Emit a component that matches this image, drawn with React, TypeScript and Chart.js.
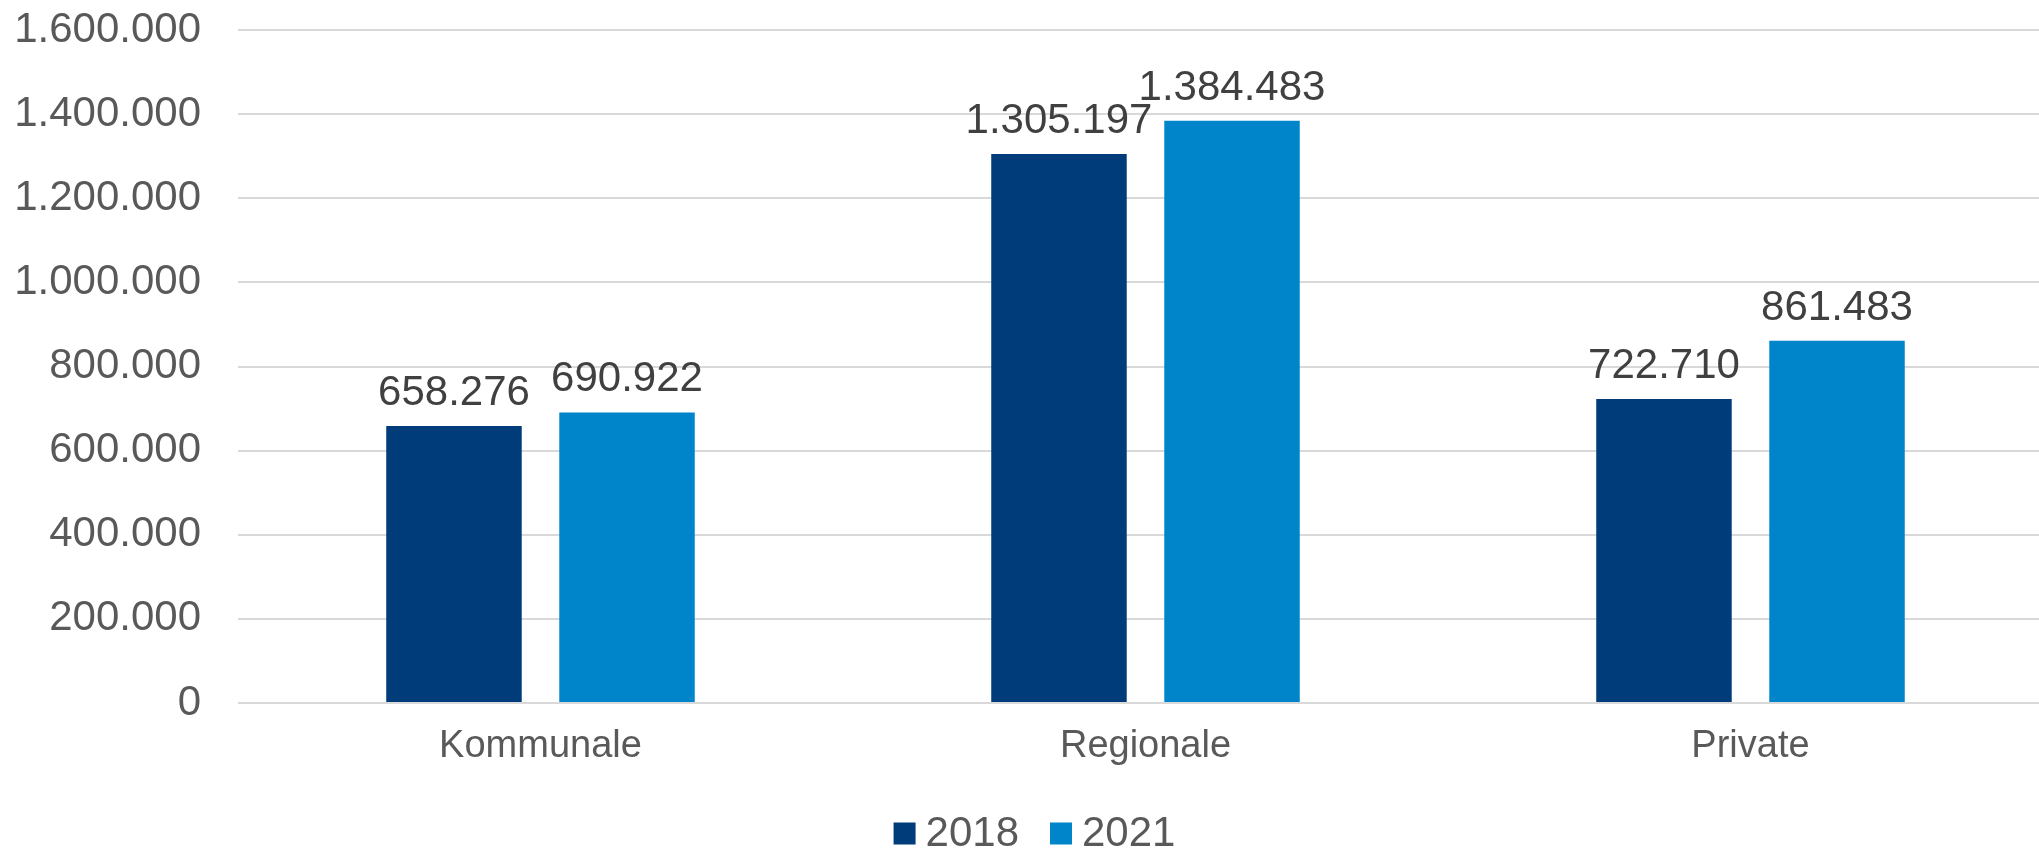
import React, { useEffect, useRef } from "react";
import { Chart, registerables } from "chart.js";

Chart.register(...registerables);

const categories = ["Kommunale", "Regionale", "Private"];
const seriesLabels = ["2018", "2021"];
const values2018 = [658276, 1305197, 722710];
const values2021 = [690922, 1384483, 861483];
const yTicks = [0, 200000, 400000, 600000, 800000, 1000000, 1200000, 1400000, 1600000];

const COLOR_2018 = "#003B7A";
const COLOR_2021 = "#0085CA";
const FONT = "'Liberation Sans', Arial, sans-serif";

function fmt(n: number): string {
  const s = Math.round(n).toString();
  return s.replace(/\B(?=(\d{3})+(?!\d))/g, ".");
}

const dataLabelPlugin = {
  id: "dataLabels",
  afterDatasetsDraw(chart: any) {
    const ctx = chart.ctx;
    ctx.save();
    ctx.font = `42px ${FONT}`;
    ctx.fillStyle = "#404040";
    ctx.textAlign = "center";
    ctx.textBaseline = "alphabetic";
    chart.data.datasets.forEach((ds: any, di: number) => {
      const meta = chart.getDatasetMeta(di);
      meta.data.forEach((bar: any, i: number) => {
        ctx.fillText(fmt(ds.data[i]), bar.x, bar.y - 21);
      });
    });
    ctx.restore();
  },
};

const legendPlugin = {
  id: "customLegend",
  afterDraw(chart: any) {
    const ctx = chart.ctx;
    ctx.save();
    ctx.font = `42px ${FONT}`;
    ctx.textBaseline = "alphabetic";
    ctx.textAlign = "left";
    const box = 22;
    const gapText = 10;
    const gapItem = 31;
    const items = chart.data.datasets.map((ds: any) => ({
      label: ds.label,
      color: ds.backgroundColor,
      w: box + gapText + ctx.measureText(ds.label).width,
    }));
    const total = items.reduce((a: number, it: any) => a + it.w, 0) + gapItem * (items.length - 1);
    let x = 1034.5 - total / 2;
    const boxTop = 822.5;
    const baseline = 846;
    items.forEach((it: any) => {
      ctx.fillStyle = it.color;
      ctx.fillRect(x, boxTop, box, box);
      ctx.fillStyle = "#595959";
      ctx.fillText(it.label, x + box + gapText, baseline);
      x += it.w + gapItem;
    });
    ctx.restore();
  },
};

export default function App() {
  const ref = useRef<HTMLCanvasElement | null>(null);

  useEffect(() => {
    if (!ref.current) return;
    const chart = new Chart(ref.current, {
      type: "bar",
      data: {
        labels: categories,
        datasets: [
          {
            label: seriesLabels[0],
            data: values2018,
            backgroundColor: COLOR_2018,
            categoryPercentage: 0.572,
            barPercentage: 0.783,
          },
          {
            label: seriesLabels[1],
            data: values2021,
            backgroundColor: COLOR_2021,
            categoryPercentage: 0.572,
            barPercentage: 0.783,
          },
        ],
      },
      options: {
        responsive: false,
        animation: false,
        devicePixelRatio: 1,
        layout: { padding: { top: 30, right: 0, bottom: 0, left: 0 } },
        plugins: {
          legend: { display: false },
          tooltip: { enabled: false },
        },
        scales: {
          x: {
            grid: { display: false, drawTicks: false },
            border: { display: false },
            ticks: {
              color: "#595959",
              font: { family: FONT, size: 38, lineHeight: 1.2 },
              padding: 21,
              maxRotation: 0,
            },
            afterFit: (scale: any) => {
              scale.height = 148;
              scale.paddingLeft = 0;
              scale.paddingRight = 0;
            },
          },
          y: {
            min: 0,
            max: 1600000,
            afterBuildTicks: (scale: any) => {
              scale.ticks = yTicks.map((v) => ({ value: v }));
            },
            grid: { color: "#D9D9D9", lineWidth: 2, drawTicks: false },
            border: { display: false },
            ticks: {
              color: "#595959",
              font: { family: FONT, size: 42 },
              padding: 37,
              callback: (v: any) => fmt(Number(v)),
            },
            afterFit: (scale: any) => {
              scale.width = 238;
              scale.paddingTop = 0;
              scale.paddingBottom = 0;
            },
          },
        },
      },
      plugins: [dataLabelPlugin, legendPlugin],
    });
    return () => chart.destroy();
  }, []);

  return (
    <div
      style={{
        position: "fixed",
        left: 0,
        top: 0,
        width: 2039,
        height: 851,
        overflow: "hidden",
        background: "#ffffff",
      }}
    >
      <canvas ref={ref} width={2053} height={851} style={{ display: "block" }} />
    </div>
  );
}
